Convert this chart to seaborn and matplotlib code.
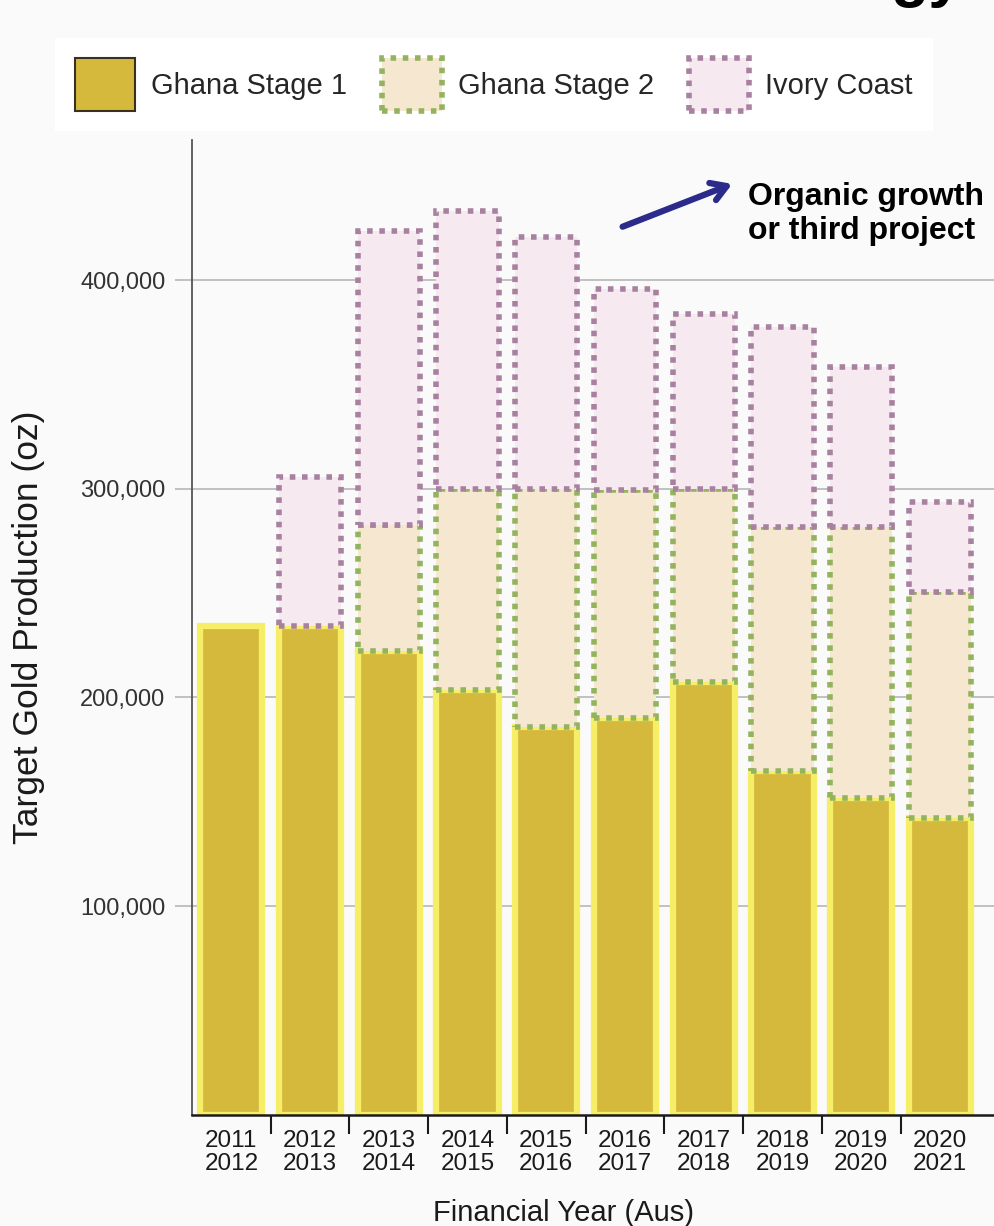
import matplotlib
matplotlib.use("Agg")
import matplotlib.pyplot as plt
import matplotlib.ticker as mticker
from matplotlib.patches import Patch
import pandas as pd
import seaborn as sns

# data (oz)
years = ['2011\n2012', '2012\n2013', '2013\n2014', '2014\n2015', '2015\n2016',
         '2016\n2017', '2017\n2018', '2018\n2019', '2019\n2020', '2020\n2021']
stage1 = [234000, 234000, 222000, 203500, 186000, 190000, 207500, 164500, 152000, 142000]
stage2 = [None, None, 60500, 96500, 114000, 109500, 92500, 117000, 129500, 108500]
ivory = [None, 71500, 141000, 133000, 120500, 96000, 83500, 96000, 77000, 43000]
y_ticks = [100000, 200000, 300000, 400000]

gold = '#d5b93d'
gold_edge = '#f6ee66'
s2_fill = '#f6e7d0'
s2_edge = '#93b35e'
ic_fill = '#f7e9f0'
ic_edge = '#a7819f'
bg = '#fafafa'

sns.set_theme(style='white')
plt.rcParams['font.family'] = ['Liberation Sans', 'DejaVu Sans']

df = pd.DataFrame({'year': years, 'stage1': stage1, 'stage2': stage2, 'ivory': ivory})
df['s1s2'] = df['stage1'] + df['stage2'].fillna(0)

fig = plt.figure(figsize=(9.95, 12.26), dpi=100, facecolor=bg)
ax = fig.add_axes([192 / 995, 1 - 1114.7 / 1226, 803 / 995, 974.7 / 1226])
ax.set_facecolor(bg)

bw = 0.79
dots = (0, (1, 1.2))

sns.barplot(data=df, x='year', y='stage1', order=years, color=gold, saturation=1,
            width=bw, errorbar=None, edgecolor=gold_edge, linewidth=4.5, zorder=2, ax=ax)

s2 = df.dropna(subset=['stage2'])
sns.barplot(data=s2, x='year', y='stage2', order=years, color=s2_fill, saturation=1,
            width=bw, errorbar=None, bottom=s2['stage1'].values, edgecolor=s2_edge,
            linewidth=4, linestyle=dots, zorder=3, ax=ax)

ic = df.dropna(subset=['ivory'])
sns.barplot(data=ic, x='year', y='ivory', order=years, color=ic_fill, saturation=1,
            width=bw, errorbar=None, bottom=ic['s1s2'].values, edgecolor=ic_edge,
            linewidth=4, linestyle=dots, zorder=4, ax=ax)

ax.set_xlim(-0.5, 9.7)
ax.set_ylim(0, 467100)
ax.set_yticks(y_ticks)
ax.yaxis.set_major_formatter(mticker.StrMethodFormatter('{x:,.0f}'))
ax.grid(axis='y', color='#bdbdbd', linewidth=1.3)
ax.set_axisbelow(True)

for side in ['top', 'right']:
    ax.spines[side].set_visible(False)
ax.spines['left'].set_color('#555555')
ax.spines['left'].set_linewidth(1.3)
ax.spines['bottom'].set_color('#1a1a1a')
ax.spines['bottom'].set_linewidth(1.8)

ax.tick_params(axis='y', length=12, width=1.3, color='#bdbdbd', pad=7,
               labelsize=17, labelcolor='#333333', left=True)
ax.tick_params(axis='x', which='major', length=0, pad=11, labelsize=17.5, labelcolor='#1a1a1a')
ax.set_xticks([i + 0.5 for i in range(len(years) - 1)], minor=True)
ax.tick_params(axis='x', which='minor', length=14, width=1.5, color='#1a1a1a', bottom=True)
for lbl in ax.get_xticklabels():
    lbl.set_linespacing(1.05)

ax.set_xlabel('Financial Year (Aus)', fontsize=21, color='#1a1a1a')
ax.xaxis.set_label_coords(0.463, -0.086)
ax.set_ylabel('Target Gold Production (oz)', fontsize=25.5, color='#1a1a1a')
ax.yaxis.set_label_coords(-0.183, 0.5)

ax.annotate('', xy=(0.676, 0.956), xytext=(0.533, 0.910), xycoords='axes fraction',
            textcoords='axes fraction',
            arrowprops=dict(arrowstyle='->, head_length=0.9, head_width=0.55',
                            color='#2b2b8c', lw=4.5))
ax.text(0.692, 0.924, 'Organic growth\nor third project', transform=ax.transAxes,
        fontsize=23, fontweight='bold', ha='left', va='center', linespacing=1.15,
        color='black')

handles = [
    Patch(facecolor=gold, edgecolor='#3a3020', linewidth=1.5),
    Patch(facecolor=s2_fill, edgecolor=s2_edge, linewidth=4, linestyle=dots),
    Patch(facecolor=ic_fill, edgecolor=ic_edge, linewidth=4, linestyle=dots),
]
fig.legend(handles, ['Ghana Stage 1', 'Ghana Stage 2', 'Ivory Coast'],
           loc='upper left', bbox_to_anchor=(55 / 995, 1 - 38 / 1226), ncol=3,
           frameon=True, facecolor='white', edgecolor='none', framealpha=1, fancybox=False,
           fontsize=21, handlelength=2.05, handleheight=2.4,
           handletextpad=0.55, columnspacing=1.2, borderpad=0.7, borderaxespad=0)

fig.text(890 / 995, 1 + 5 / 1226, 'gy', fontsize=45, fontweight='bold', va='baseline',
         ha='left', color='black')

fig.savefig('out.png', dpi=100, facecolor=bg)
